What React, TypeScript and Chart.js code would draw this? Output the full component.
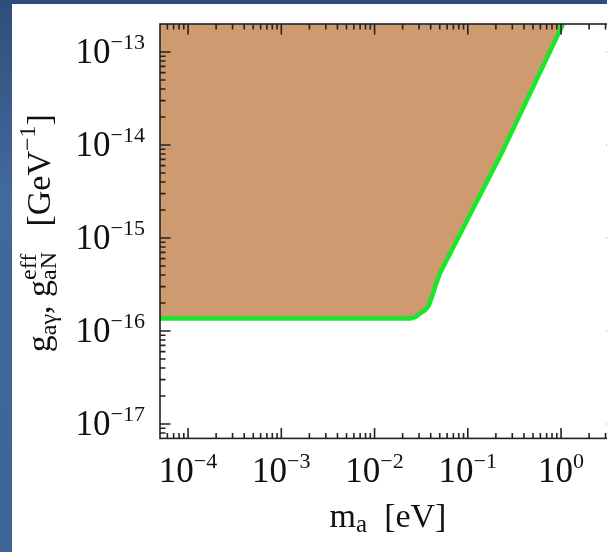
import React, { useEffect, useRef } from 'react';
import { Chart, registerables } from 'chart.js';

Chart.register(...registerables);

// ---- data ----
const massEV = [5e-5, 0.024, 0.0277, 0.0308, 0.0346, 0.0375, 0.0414, 0.0446, 0.0504, 0.239, 1.05];
const coupling = [1.36e-16, 1.36e-16, 1.42e-16, 1.55e-16, 1.67e-16, 1.82e-16, 2.34e-16, 2.99e-16, 4.2e-16, 8.8e-15, 2.0e-13];

const xMajorTicks = [1e-4, 1e-3, 1e-2, 1e-1, 1];
const xTickExponents = ['−4', '−3', '−2', '−1', '0'];
const yMajorTicks = [1e-17, 1e-16, 1e-15, 1e-14, 1e-13];
const yTickExponents = ['−17', '−16', '−15', '−14', '−13'];

const X_MIN = 5e-5;
const X_MAX = 4;
const Y_MIN = 7e-18;
const Y_MAX = 2e-13;

const CANVAS_W = 630;
const CANVAS_H = 552;

const SERIF = '"Liberation Serif", "Times New Roman", Times, serif';
const TEXT_COLOR = '#111';
const FRAME_COLOR = '#222';

function minorTicks(min: number, max: number): number[] {
  const out: number[] = [];
  const lo = Math.floor(Math.log10(min)) - 1;
  const hi = Math.ceil(Math.log10(max)) + 1;
  for (let e = lo; e <= hi; e++) {
    for (let m = 2; m <= 9; m++) {
      const v = m * Math.pow(10, e);
      if (v > min * 1.0001 && v < max * 0.9999) out.push(v);
    }
  }
  return out;
}

type Run =
  | { t: string; s: number; dy: number }
  | { sup: string; sub: string; s: number; supDy: number; subDy: number };

function runWidth(ctx: CanvasRenderingContext2D, r: Run): number {
  ctx.font = `${r.s}px ${SERIF}`;
  if ('t' in r) return ctx.measureText(r.t).width;
  return Math.max(ctx.measureText(r.sup).width, ctx.measureText(r.sub).width);
}

function drawRuns(
  ctx: CanvasRenderingContext2D,
  runs: Run[],
  x: number,
  y: number,
  align: 'left' | 'center' | 'right'
) {
  const widths = runs.map((r) => runWidth(ctx, r));
  const total = widths.reduce((a, b) => a + b, 0);
  let cx = align === 'left' ? x : align === 'center' ? x - total / 2 : x - total;
  ctx.textAlign = 'left';
  ctx.textBaseline = 'alphabetic';
  ctx.fillStyle = TEXT_COLOR;
  runs.forEach((r, i) => {
    ctx.font = `${r.s}px ${SERIF}`;
    if ('t' in r) {
      ctx.fillText(r.t, cx, y + r.dy);
    } else {
      ctx.fillText(r.sup, cx, y + r.supDy);
      ctx.fillText(r.sub, cx, y + r.subDy);
    }
    cx += widths[i];
  });
}

const backgroundPlugin = {
  id: 'slideBackground',
  beforeDraw(chart: any) {
    const ctx: CanvasRenderingContext2D = chart.ctx;
    const w = chart.width;
    const h = chart.height;
    ctx.save();
    const g = ctx.createLinearGradient(0, 0, 0, h);
    g.addColorStop(0, '#2e4f7c');
    g.addColorStop(0.35, '#43699a');
    g.addColorStop(1, '#3d6493');
    ctx.fillStyle = g;
    ctx.fillRect(0, 0, w, h);
    ctx.fillStyle = '#ffffff';
    ctx.fillRect(12, 4, w - 12, h - 4);
    ctx.restore();
  },
};

const framePlugin = {
  id: 'frameAndLabels',
  afterDraw(chart: any) {
    const ctx: CanvasRenderingContext2D = chart.ctx;
    const { left, right, top, bottom } = chart.chartArea;
    const xs = chart.scales.x;
    const ys = chart.scales.y;
    ctx.save();

    // ticks (inward, all four sides)
    ctx.strokeStyle = FRAME_COLOR;
    ctx.lineWidth = 1.6;
    const MAJOR = 10.5;
    const MINOR = 5.5;
    const xTicks = [
      ...xMajorTicks.map((v) => ({ v, len: MAJOR })),
      ...minorTicks(X_MIN, X_MAX).map((v) => ({ v, len: MINOR })),
    ];
    const yTicks = [
      ...yMajorTicks.map((v) => ({ v, len: MAJOR })),
      ...minorTicks(Y_MIN, Y_MAX).map((v) => ({ v, len: MINOR })),
    ];
    ctx.beginPath();
    xTicks.forEach(({ v, len }) => {
      const px = xs.getPixelForValue(v);
      ctx.moveTo(px, bottom);
      ctx.lineTo(px, bottom - len);
      ctx.moveTo(px, top);
      ctx.lineTo(px, top + len);
    });
    yTicks.forEach(({ v, len }) => {
      const py = ys.getPixelForValue(v);
      ctx.moveTo(left, py);
      ctx.lineTo(left + len, py);
      ctx.moveTo(right, py);
      ctx.lineTo(right - len, py);
    });
    ctx.stroke();

    // frame
    ctx.lineWidth = 1.6;
    ctx.strokeRect(left, top, right - left, bottom - top);

    // x tick labels
    xMajorTicks.forEach((v, i) => {
      const px = xs.getPixelForValue(v);
      drawRuns(
        ctx,
        [
          { t: '10', s: 35, dy: 0 },
          { t: xTickExponents[i], s: 22, dy: -14 },
        ],
        px,
        bottom + 43.5,
        'center'
      );
    });

    // y tick labels
    yMajorTicks.forEach((v, i) => {
      const py = ys.getPixelForValue(v);
      drawRuns(
        ctx,
        [
          { t: '10', s: 35, dy: 0 },
          { t: yTickExponents[i], s: 22, dy: -14 },
        ],
        145,
        py + 11.5,
        'right'
      );
    });

    // x title
    drawRuns(
      ctx,
      [
        { t: 'm', s: 34, dy: 0 },
        { t: 'a', s: 25, dy: 5 },
        { t: '  [eV]', s: 34, dy: 0 },
      ],
      (left + Math.min(right, 608)) / 2 + 4,
      bottom + 88.5,
      'center'
    );

    // y title (rotated)
    ctx.save();
    ctx.translate(50, (top + bottom) / 2 + 2);
    ctx.rotate(-Math.PI / 2);
    drawRuns(
      ctx,
      [
        { t: 'g', s: 34, dy: 0 },
        { t: 'aγ', s: 24, dy: 6 },
        { t: ', g', s: 34, dy: 0 },
        { sup: 'eff', sub: 'aN', s: 24, supDy: -14, subDy: 6 },
        { t: '   [GeV', s: 34, dy: 0 },
        { t: '−1', s: 24, dy: -15 },
        { t: ']', s: 34, dy: 0 },
      ],
      0,
      0,
      'center'
    );
    ctx.restore();

    ctx.restore();
  },
};

export default function App() {
  const ref = useRef<HTMLCanvasElement>(null);

  useEffect(() => {
    if (!ref.current) return;
    const points = massEV.map((x, i) => ({ x, y: coupling[i] }));
    const chart = new Chart(ref.current, {
      type: 'line',
      data: {
        datasets: [
          {
            data: points,
            borderColor: '#18e82a',
            borderWidth: 4.5,
            borderJoinStyle: 'round',
            pointRadius: 0,
            fill: 'end',
            backgroundColor: '#cd9b6f',
            tension: 0,
          } as any,
        ],
      },
      options: {
        animation: false,
        responsive: false,
        events: [],
        layout: {
          padding: { left: 160, top: 24, right: CANVAS_W - 617.2, bottom: CANVAS_H - 438.4 },
        },
        scales: {
          x: { type: 'logarithmic', min: X_MIN, max: X_MAX, display: false },
          y: { type: 'logarithmic', min: Y_MIN, max: Y_MAX, display: false },
        },
        plugins: {
          legend: { display: false },
          tooltip: { enabled: false },
        },
      },
      plugins: [backgroundPlugin, framePlugin],
    });
    return () => chart.destroy();
  }, []);

  return (
    <div
      style={{
        position: 'fixed',
        left: 0,
        top: 0,
        width: 607,
        height: 552,
        overflow: 'hidden',
        background: '#ffffff',
      }}
    >
      <canvas
        ref={ref}
        width={CANVAS_W}
        height={CANVAS_H}
        style={{ display: 'block', width: CANVAS_W, height: CANVAS_H }}
      />
    </div>
  );
}
